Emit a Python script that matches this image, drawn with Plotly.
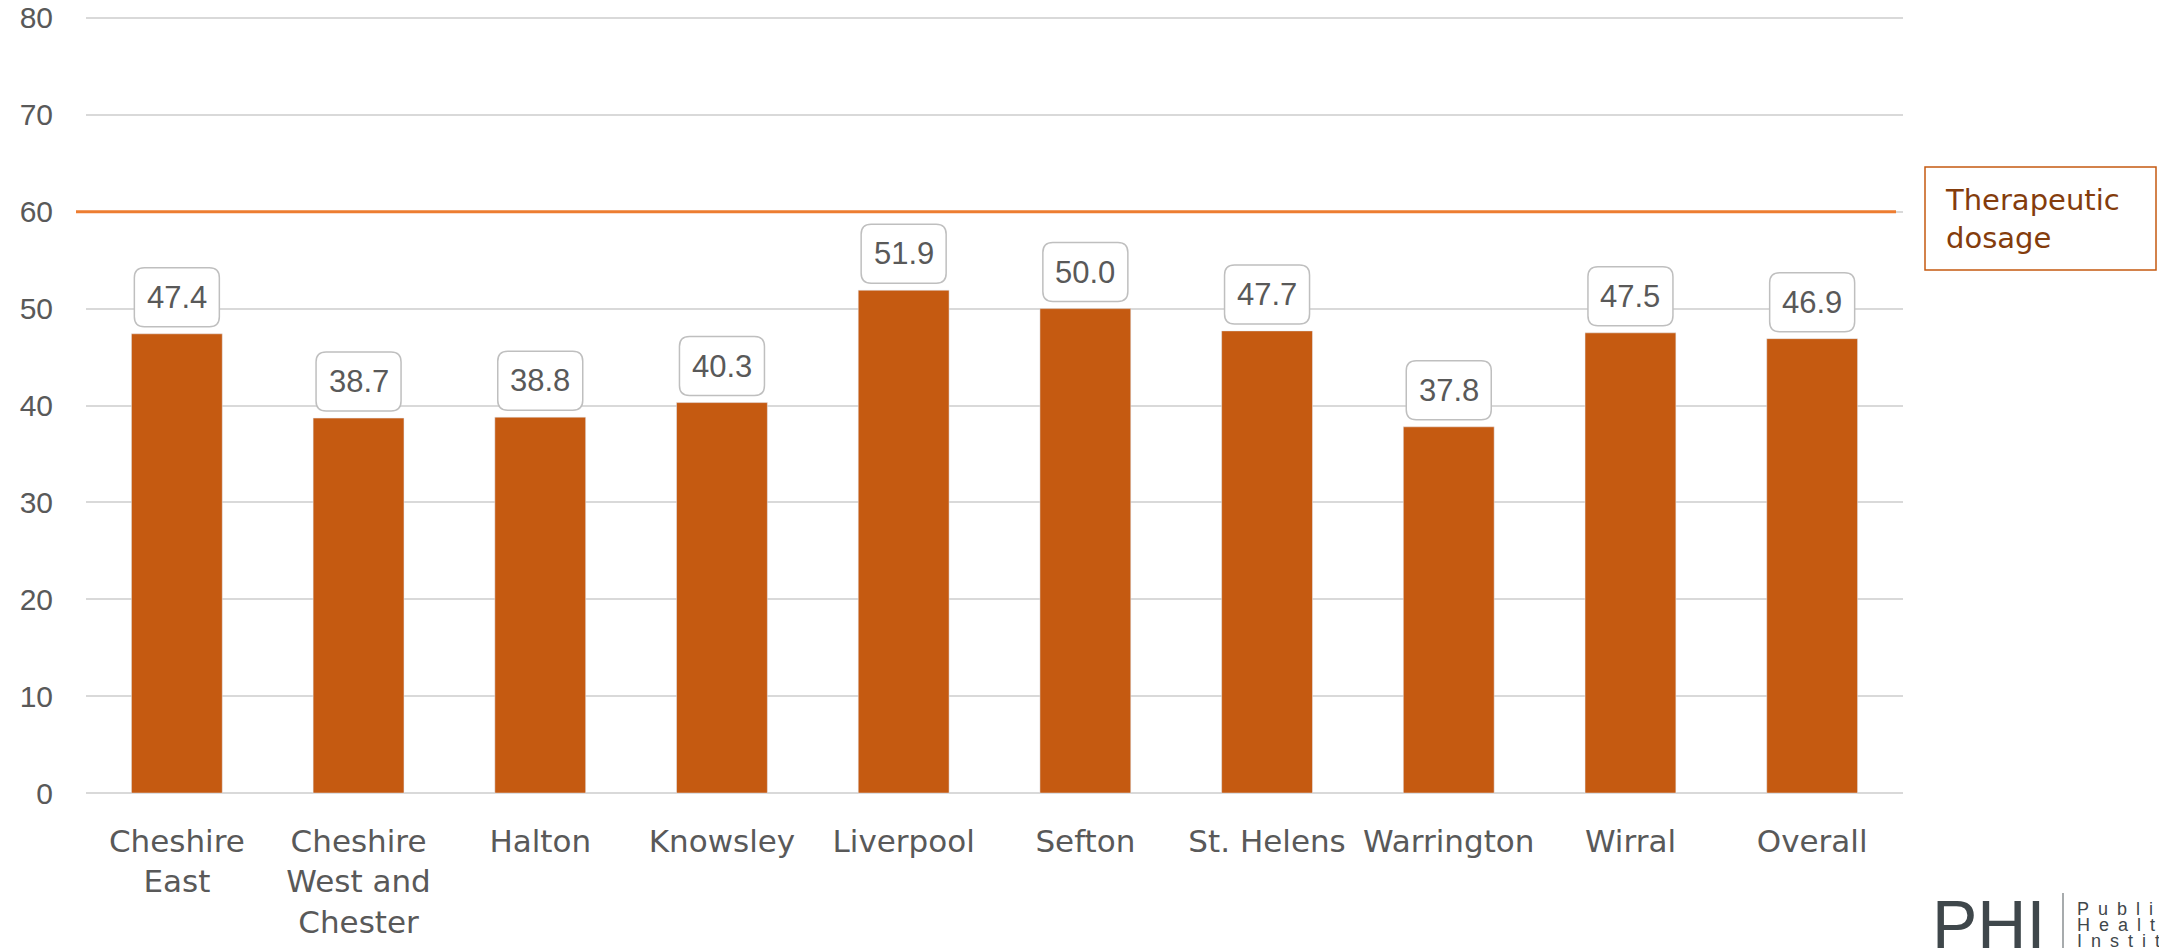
import plotly.graph_objects as go

categories = ["Cheshire East", "Cheshire West and Chester", "Halton", "Knowsley",
              "Liverpool", "Sefton", "St. Helens", "Warrington", "Wirral", "Overall"]
tick_labels = ["Cheshire<br>East", "Cheshire<br>West and<br>Chester", "Halton", "Knowsley",
               "Liverpool", "Sefton", "St. Helens", "Warrington", "Wirral", "Overall"]
values = [47.4, 38.7, 38.8, 40.3, 51.9, 50.0, 47.7, 37.8, 47.5, 46.9]
therapeutic_dose = 60
y_ticks = [0, 10, 20, 30, 40, 50, 60, 70, 80]

BAR = "#C55A11"
LINE = "#ED7D31"
GREY = "#595959"
W, H = 2159, 948
L, R, T, B = 86, 256, 16, 153
PW, PH = W - L - R, H - T - B


def px(x):
    return (x - L) / PW


def py(y):
    return (H - B - y) / PH


fig = go.Figure()
fig.add_trace(go.Bar(x=categories, y=values, marker_color=BAR, showlegend=False,
                     hoverinfo="x+y"))

# threshold line
fig.add_shape(type="line", xref="paper", yref="y", x0=px(76), x1=px(1896),
              y0=therapeutic_dose, y1=therapeutic_dose,
              line=dict(color=LINE, width=3), layer="above")

# rounded label boxes
bw, bh, r, off = 85, 59, 10, 36.5


def rounded(cx, cy, w, h, r):
    x0, x1 = cx - w / 2, cx + w / 2
    y0, y1 = cy - h / 2, cy + h / 2
    return (f"M{x0 + r},{y0} L{x1 - r},{y0} Q{x1},{y0} {x1},{y0 + r} "
            f"L{x1},{y1 - r} Q{x1},{y1} {x1 - r},{y1} L{x0 + r},{y1} "
            f"Q{x0},{y1} {x0},{y1 - r} L{x0},{y0 + r} Q{x0},{y0} {x0 + r},{y0} Z")


for c, v in zip(categories, values):
    fig.add_shape(type="path", xref="x", yref="y", xsizemode="pixel", ysizemode="pixel",
                  xanchor=c, yanchor=v, path=rounded(0, off, bw, bh, r),
                  line=dict(color="#BFBFBF", width=1.5), fillcolor="white", layer="above")
    fig.add_annotation(x=c, y=v, xref="x", yref="y", text=f"{v:.1f}", showarrow=False,
                       yshift=off, font=dict(family="Liberation Sans, Arial", size=31, color=GREY))

# legend-like box
fig.add_shape(type="rect", xref="paper", yref="paper", x0=px(1925), x1=px(2156),
              y0=py(270), y1=py(167), line=dict(color=BAR, width=1.5), fillcolor="white")
fig.add_annotation(xref="paper", yref="paper", x=px(1943), y=py(219), xanchor="left",
                   yanchor="middle", align="left", showarrow=False,
                   text="Therapeutic<br>dosage",
                   font=dict(family="DejaVu Sans", size=29, color="#843C0C"))

# logo
fig.add_annotation(xref="paper", yref="paper", x=px(1930), y=py(884), xanchor="left",
                   yanchor="top", showarrow=False, text="PHI",
                   font=dict(family="Liberation Sans, Arial", size=68, color="#3F474B"))
fig.add_shape(type="line", xref="paper", yref="paper", x0=px(2063), x1=px(2063),
              y0=py(893), y1=py(960), line=dict(color="#8A8F92", width=1.5))
sp = "\u2002"
for i, t in enumerate(["Public", "Health", "Institute"]):
    fig.add_annotation(xref="paper", yref="paper", x=px(2075), y=py(917 + 16 * i),
                       xanchor="left", yanchor="bottom", showarrow=False, text=sp.join(t),
                       font=dict(family="Liberation Sans, Arial", size=18, color="#3F474B"),
                       yshift=-4)

fig.update_layout(
    width=W, height=H,
    margin=dict(l=L, r=R, t=T, b=B, autoexpand=False),
    plot_bgcolor="white", paper_bgcolor="white",
    bargap=0.5,
    xaxis=dict(tickmode="array", tickvals=categories, ticktext=tick_labels,
               tickfont=dict(family="DejaVu Sans", size=31, color=GREY), showgrid=False,
               showline=False, ticks="", ticklabelstandoff=25, zeroline=False),
    yaxis=dict(range=[-0.2, 80.2], tickvals=y_ticks, showgrid=True, gridcolor="#D9D9D9",
               gridwidth=1.5, zeroline=False, ticks="", ticklabelstandoff=32,
               tickfont=dict(family="Liberation Sans, Arial", size=30, color=GREY)),
)
fig.write_html("out.html", config={"displayModeBar": False},
               post_script="document.body.style.margin='0';")
